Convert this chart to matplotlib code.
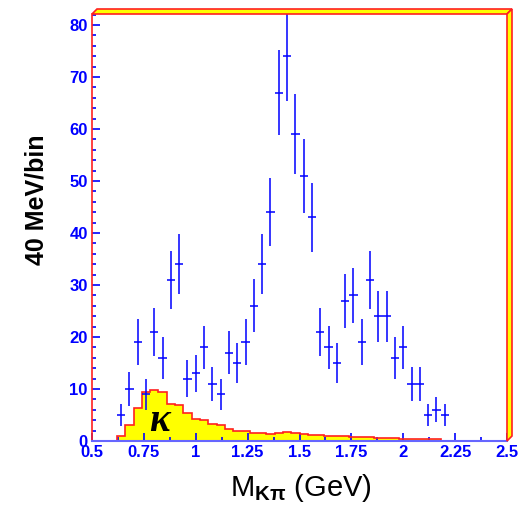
import matplotlib
matplotlib.use("Agg")
import matplotlib.pyplot as plt
import numpy as np
from matplotlib.patches import Polygon
from matplotlib.ticker import MultipleLocator, FuncFormatter

# ---- data ----
mass_centers = [0.64, 0.68, 0.72, 0.76, 0.80, 0.84, 0.88, 0.92, 0.96, 1.00,
                1.04, 1.08, 1.12, 1.16, 1.20, 1.24, 1.28, 1.32, 1.36, 1.40,
                1.44, 1.48, 1.52, 1.56, 1.60, 1.64, 1.68, 1.72, 1.76, 1.80,
                1.84, 1.88, 1.92, 1.96, 2.00, 2.04, 2.08, 2.12, 2.16, 2.20]
counts = [5, 10, 19, 9, 21, 16, 31, 34, 12, 13,
          18, 11, 9, 17, 15, 19, 26, 34, 44, 67,
          74, 59, 51, 43, 21, 18, 15, 27, 28, 19,
          31, 24, 24, 16, 18, 11, 11, 5, 6, 5]
count_errors = [2.2, 3.2, 4.4, 3.0, 4.6, 4.0, 5.6, 5.8, 3.5, 3.6,
                4.2, 3.3, 3.0, 4.1, 3.9, 4.4, 5.1, 5.8, 6.6, 8.2,
                8.6, 7.7, 7.1, 6.6, 4.6, 4.2, 3.9, 5.2, 5.3, 4.4,
                5.6, 4.9, 4.9, 4.0, 4.2, 3.3, 3.3, 2.2, 2.4, 2.2]
half_bin = 0.02

kappa_edges = [0.62, 0.66, 0.70, 0.74, 0.78, 0.82, 0.86, 0.90, 0.94, 0.98,
               1.02, 1.06, 1.10, 1.14, 1.18, 1.22, 1.26, 1.30, 1.34, 1.38,
               1.42, 1.46, 1.50, 1.54, 1.58, 1.62, 1.66, 1.70, 1.74, 1.78,
               1.82, 1.86, 1.90, 1.94, 1.98, 2.02, 2.06, 2.10, 2.14, 2.18]
kappa_values = [1.0, 3.0, 6.4, 9.4, 9.8, 9.4, 7.2, 6.9, 5.4, 4.2,
                4.0, 3.3, 3.0, 2.4, 2.0, 1.9, 1.6, 1.5, 1.4, 1.5,
                1.7, 1.5, 1.3, 1.2, 1.2, 1.0, 1.0, 1.0, 0.8, 0.8,
                0.7, 0.6, 0.5, 0.5, 0.4, 0.3, 0.3, 0.3, 0.3]

x_ticks = [0.5, 0.75, 1.0, 1.25, 1.5, 1.75, 2.0, 2.25, 2.5]
y_ticks = [0, 10, 20, 30, 40, 50, 60, 70, 80]

plt.rcParams['font.family'] = ['Liberation Sans', 'DejaVu Sans']
plt.rcParams['mathtext.fontset'] = 'custom'
plt.rcParams['mathtext.rm'] = 'Liberation Sans'
plt.rcParams['mathtext.bf'] = 'Liberation Sans:bold'
plt.rcParams['mathtext.it'] = 'Liberation Sans:italic'

W, H = 520, 525
fig = plt.figure(figsize=(W / 100, H / 100), dpi=100)
fig.patch.set_facecolor('white')

ax_l, ax_r, ax_t, ax_b = 92, 507, 14, 441
ax = fig.add_axes([ax_l / W, 1 - ax_b / H, (ax_r - ax_l) / W, (ax_b - ax_t) / H])

BLUE = '#0000ff'
RED = '#ff2020'
YELLOW = '#ffff00'

# kappa histogram
ax.stairs(kappa_values, kappa_edges, baseline=0, fill=True,
          facecolor=YELLOW, edgecolor='none', zorder=1)
ax.stairs(kappa_values, kappa_edges, baseline=0, fill=False,
          color=RED, linewidth=1.2, zorder=2)

# data points
ax.errorbar(mass_centers, counts, yerr=count_errors, xerr=half_bin,
            fmt='none', ecolor=BLUE, elinewidth=1.3, capsize=0, alpha=0.85, zorder=3)

ax.text(0.827, 3.7, 'κ', fontsize=28, fontweight='bold', style='italic',
        family=['Liberation Serif', 'DejaVu Serif'], ha='center', va='center',
        color='black', zorder=4)

ax.set_xlim(0.5, 2.5)
ax.set_ylim(0, 82.1)

ax.set_xticks(x_ticks)
ax.xaxis.set_major_formatter(FuncFormatter(lambda v, p: f'{v:g}'))
ax.xaxis.set_minor_locator(MultipleLocator(0.125))
ax.set_yticks(y_ticks)
ax.yaxis.set_minor_locator(MultipleLocator(2))

ax.tick_params(which='both', direction='in', color=BLUE, width=1.2,
               top=False, right=False)
ax.tick_params(which='major', length=6)
ax.tick_params(which='minor', length=3)
ax.tick_params(axis='x', which='major', pad=3)
ax.tick_params(axis='y', which='major', pad=3)
for lab in ax.get_xticklabels() + ax.get_yticklabels():
    lab.set_color(BLUE)
    lab.set_fontweight('bold')
    lab.set_fontsize(12)

ax.spines['left'].set_color(RED)
ax.spines['left'].set_linewidth(1.2)
ax.spines['bottom'].set_color('#6666ff')
ax.spines['bottom'].set_linewidth(1.5)
ax.spines['top'].set_visible(False)
ax.spines['right'].set_visible(False)

# 3D-like frame border (top and right)
def fp(x, y):
    return (x / W, 1 - y / H)

top_band = Polygon([fp(92, 14), fp(97, 9), fp(512, 9), fp(507, 14)], closed=True,
                   transform=fig.transFigure, facecolor=YELLOW, edgecolor=RED,
                   linewidth=1.2)
right_band = Polygon([fp(507, 14), fp(512, 9), fp(512, 436), fp(507, 441)], closed=True,
                     transform=fig.transFigure, facecolor=YELLOW, edgecolor=RED,
                     linewidth=1.2)
fig.patches.extend([top_band, right_band])

fig.text(36 / W, 1 - 200 / H, '40 MeV/bin', rotation=90, ha='center', va='center',
         fontsize=18, fontweight='bold', color='black')
fig.text(301 / W, 1 - 488 / H, r'M$_{\mathbf{K\pi}}$ (GeV)', ha='center', va='center',
         fontsize=21, color='black')

fig.savefig('out.png', dpi=100, facecolor='white')
